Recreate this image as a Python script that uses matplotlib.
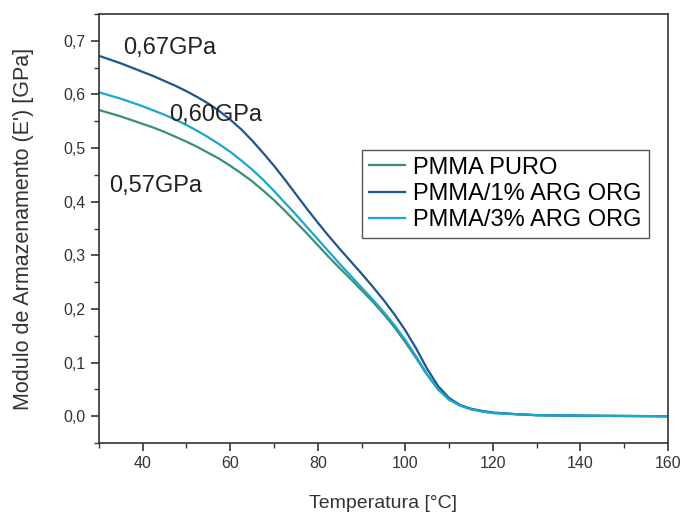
import matplotlib
matplotlib.use("Agg")
import matplotlib.pyplot as plt
from matplotlib.ticker import MultipleLocator

plt.rcParams['font.family'] = ['Liberation Sans', 'DejaVu Sans']

temperature = [30, 32.5, 35, 37.5, 40, 42.5, 45, 47.5, 50, 52.5, 55, 57.5, 60,
               62.5, 65, 67.5, 70, 72.5, 75, 77.5, 80, 82.5, 85, 87.5, 90,
               92.5, 95, 97.5, 100, 102.5, 105, 107.5, 110, 112.5, 115, 117.5,
               120, 125, 130, 140, 150, 160]

pmma_puro = [0.571, 0.565, 0.559, 0.552, 0.545, 0.538, 0.530, 0.521, 0.512,
             0.502, 0.491, 0.480, 0.467, 0.453, 0.438, 0.421, 0.403, 0.383,
             0.362, 0.341, 0.319, 0.297, 0.276, 0.256, 0.235, 0.214, 0.191,
             0.166, 0.138, 0.108, 0.077, 0.050, 0.031, 0.020, 0.013, 0.009,
             0.006, 0.004, 0.002, 0.001, 0.0005, 0.0]

pmma_1 = [0.672, 0.665, 0.658, 0.650, 0.642, 0.634, 0.625, 0.616, 0.606,
          0.595, 0.583, 0.569, 0.553, 0.535, 0.514, 0.491, 0.467, 0.441,
          0.414, 0.387, 0.361, 0.336, 0.312, 0.289, 0.266, 0.242, 0.217,
          0.190, 0.160, 0.126, 0.088, 0.056, 0.034, 0.021, 0.014, 0.010,
          0.007, 0.004, 0.002, 0.001, 0.0005, 0.0]

pmma_3 = [0.604, 0.598, 0.592, 0.585, 0.578, 0.570, 0.562, 0.553, 0.543,
          0.532, 0.520, 0.507, 0.493, 0.477, 0.460, 0.441, 0.420, 0.398,
          0.376, 0.353, 0.330, 0.307, 0.284, 0.262, 0.240, 0.218, 0.195,
          0.170, 0.142, 0.111, 0.078, 0.050, 0.031, 0.020, 0.013, 0.009,
          0.006, 0.004, 0.002, 0.001, 0.0005, 0.0]

series_labels = ["PMMA PURO", "PMMA/1% ARG ORG", "PMMA/3% ARG ORG"]
series_colors = ["#3a9170", "#1d5591", "#19a6d4"]

x_ticks = [40, 60, 80, 100, 120, 140, 160]
x_tick_labels = ["40", "60", "80", "100", "120", "140", "160"]
y_ticks = [0.0, 0.1, 0.2, 0.3, 0.4, 0.5, 0.6, 0.7]
y_tick_labels = ["0,0", "0,1", "0,2", "0,3", "0,4", "0,5", "0,6", "0,7"]

annotations = ["0,67GPa", "0,60GPa", "0,57GPa"]
annot_x = [35.5, 46.0, 32.3]
annot_y = [0.687, 0.561, 0.429]

fig = plt.figure(figsize=(6.82, 5.17), dpi=100)
ax = fig.add_axes([0.145, 0.143, 0.8345, 0.83])

for ys, lab, col in zip([pmma_puro, pmma_1, pmma_3], series_labels, series_colors):
    ax.plot(temperature, ys, color=col, lw=1.6, label=lab)

ax.set_xlim(30, 160)
ax.set_ylim(-0.05, 0.75)
ax.set_xticks(x_ticks)
ax.set_xticklabels(x_tick_labels)
ax.set_yticks(y_ticks)
ax.set_yticklabels(y_tick_labels)
ax.xaxis.set_minor_locator(MultipleLocator(10))
ax.yaxis.set_minor_locator(MultipleLocator(0.05))
ax.tick_params(which='major', direction='out', length=6, width=1.2, labelsize=11.5, colors='#333333')
ax.tick_params(which='minor', direction='out', length=3.5, width=1.0, colors='#333333')
for s in ax.spines.values():
    s.set_linewidth(1.2)
    s.set_color('#333333')

for t, x, y in zip(annotations, annot_x, annot_y):
    ax.text(x, y, t, fontsize=17, va='center', ha='left', color='#222222')

ax.set_xlabel("Temperatura [°C]", fontsize=14, color='#333333', labelpad=17)
ax.set_ylabel("Modulo de Armazenamento (E') [GPa]", fontsize=15.5, color='#333333', labelpad=21)

leg = ax.legend(loc='upper left', bbox_to_anchor=(0.463, 0.684), fontsize=17,
                frameon=True, fancybox=False, edgecolor='#555555', framealpha=1,
                handlelength=1.5, handletextpad=0.35, labelspacing=0.18,
                borderpad=0.3, borderaxespad=0)
leg.get_frame().set_linewidth(1.0)

fig.savefig("out.png", dpi=100)
